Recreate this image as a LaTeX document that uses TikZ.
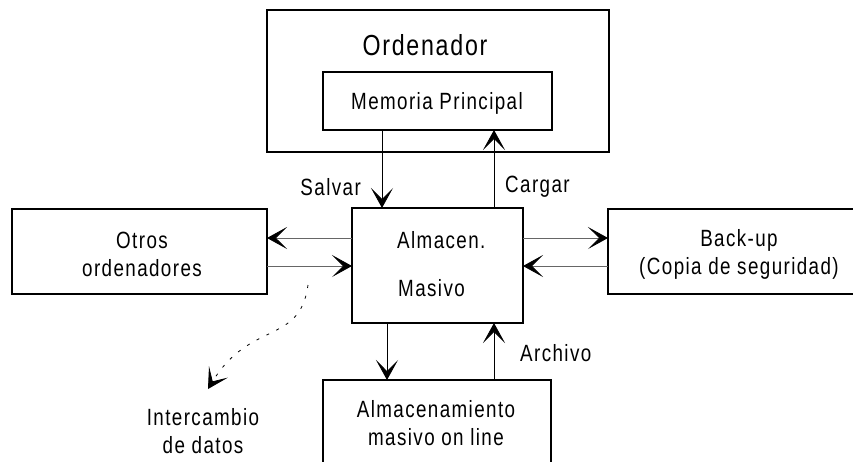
\documentclass[tikz,border=0pt]{standalone}
\usepackage{fontspec}
\setmainfont[FakeStretch=0.8,LetterSpace=6]{Liberation Sans}
\usetikzlibrary{arrows.meta}
\begin{document}
\begin{tikzpicture}[x=1pt,y=-1pt,
  box/.style={draw, line width=1.5pt, line join=miter},
  inbox/.style={draw, line width=1.1pt},
  lbl/.style={font=\fontsize{23.5}{28}\selectfont, inner sep=0pt, align=center},
  big/.style={font=\fontsize{29}{30}\selectfont, inner sep=0pt},
  conn/.style={line width=0.8pt, -{Stealth[length=20pt,width=22pt,inset=11pt]}},
  gconn/.style={line width=0.8pt, draw=black!60, -{Stealth[length=20pt,width=22pt,inset=11pt,color=black]}}
]
\useasboundingbox (0,0) rectangle (853,461);
\clip (0,0) rectangle (853,461);
% boxes
\draw[box] (267,10) rectangle (609,152);
\node[big] (ord) at (425,45) {Ordenador};
\draw[inbox] (323,72) rectangle (552,130);
\node[lbl] (mem) at (437,103) {Memoria Principal};
\coordinate (memS1) at (382,130);
\coordinate (memS2) at (494,130);

\draw[box] (352,208) rectangle (523,323);
\node[lbl, anchor=west] (alm1) at (397,240) {Almacen.};
\node[lbl, anchor=west] (alm2) at (398,288) {Masivo};
\coordinate (cN1) at (382,208);
\coordinate (cN2) at (494,208);
\coordinate (cW1) at (352,238);
\coordinate (cW2) at (352,266);
\coordinate (cE1) at (523,238);
\coordinate (cE2) at (523,266);
\coordinate (cS1) at (387,323);
\coordinate (cS2) at (494,323);

\draw[box] (12,209) rectangle (267,294);
\node[lbl] (otros) at (142,254) {Otros\\ordenadores};
\coordinate (oE1) at (267,238);
\coordinate (oE2) at (267,266);

\draw[box] (608,209) rectangle (860,294);
\node[lbl] (back) at (739,254) {Back-up\\(Copia de seguridad)};
\coordinate (bW1) at (608,238);
\coordinate (bW2) at (608,266);

\draw[box] (551,470) -- (551,380) -- (323,380) -- (323,470);
\node[lbl] (onl) at (436,423) {Almacenamiento\\masivo on line};
\coordinate (lN1) at (387,380);
\coordinate (lN2) at (494,380);

% connectors
\draw[conn] (memS1) -- (cN1);
\draw[conn] (cN2) -- (memS2);
\node[lbl, anchor=east] (salvar) at (361,187) {Salvar};
\node[lbl, anchor=west] (cargar) at (505,187) {Cargar};

\draw[gconn] (cW1) -- (oE1);
\draw[gconn] (oE2) -- (cW2);
\draw[gconn] (cE1) -- (bW1);
\draw[gconn] (bW2) -- (cE2);

\draw[conn] (cS1) -- (lN1);
\draw[conn] (lN2) -- (cS2);
\node[lbl, anchor=west] (arch) at (520,353) {Archivo};

\coordinate (dstart) at (308,285);
\node[lbl] (inter) at (203,431) {Intercambio\\de datos};
\coordinate (dend) at (208,389);
\draw[line width=0.8pt, dash pattern=on 3pt off 8pt, -{Stealth[length=20pt,width=22pt,inset=11pt]}] (dstart) .. controls (300,345) and (250,320) .. (dend);
\end{tikzpicture}
\end{document}
